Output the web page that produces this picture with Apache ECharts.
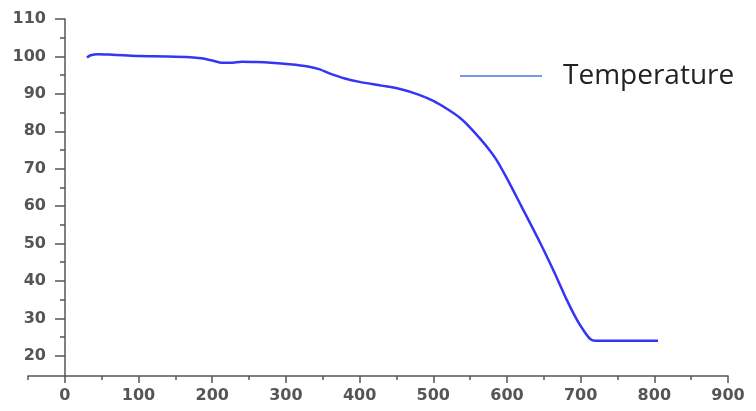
<!DOCTYPE html>
<html>
<head>
<meta charset="utf-8">
<script src="https://cdn.jsdelivr.net/npm/echarts@6/dist/echarts.min.js"></script>
<style>html,body{margin:0;padding:0;background:#fff}#c{width:756px;height:411px}</style>
</head>
<body>
<div id="c"></div>
<script>
var seriesName = 'Temperature';
var xValues = [30,35,45,60,80,100,140,170,185,200,210,225,240,260,280,305,330,345,360,380,400,430,455,480,500,520,536,550,565,577,586,600,620,645,665,681,695,705,713,720,805];
var yValues = [99.7,100.3,100.6,100.5,100.3,100.1,100,99.8,99.5,98.9,98.4,98.3,98.6,98.5,98.3,97.9,97.3,96.6,95.4,94.1,93.2,92.2,91.3,89.8,88.1,85.8,83.6,81,77.7,74.8,72.3,67.4,59.8,50.2,42,35,29.6,26.5,24.5,24,24];
var xMajorTicks = [0,100,200,300,400,500,600,700,800,900];
var xMinorTicks = [-50,50,150,250,350,450,550,650,750,850];
var yMajorTicks = [20,30,40,50,60,70,80,90,100,110];
var yMinorTicks = [25,35,45,55,65,75,85,95,105];

var pts = xValues.map(function(x,i){return [x,yValues[i]];});
var axisColor = '#555';
var labelStyle = {fontFamily:'DejaVu Sans', fontWeight:'bold', fontSize:16, color:'#555'};
var chart = echarts.init(document.getElementById('c'), null, {renderer:'canvas'});
chart.setOption({
  animation:false,
  grid:{left:28, right:28, top:19, bottom:35},
  legend:{
    data:[{name:seriesName, icon:'rect', itemStyle:{color:'#4a78d8'}}],
    left:455, top:57, itemWidth:82, itemHeight:1.5,
    textStyle:{fontFamily:'Open Sans', fontSize:28, color:'#222', padding:[0,0,0,16]}
  },
  xAxis:[{
    type:'value', min:-50, max:900,
    axisLine:{show:true, onZero:false, lineStyle:{color:axisColor, width:1.5}},
    axisTick:{show:true, customValues:xMajorTicks, length:7, lineStyle:{color:axisColor, width:1.5}},
    axisLabel:{customValues:xMajorTicks, margin:12, ...labelStyle},
    splitLine:{show:false}
  },{
    type:'value', min:-50, max:900, position:'bottom',
    axisLine:{show:false, onZero:false},
    axisTick:{show:true, customValues:xMinorTicks, length:4, lineStyle:{color:axisColor, width:1.5}},
    axisLabel:{show:false},
    splitLine:{show:false}
  }],
  yAxis:[{
    type:'value', min:14.6, max:110, offset:-37,
    axisLine:{show:true, onZero:false, lineStyle:{color:axisColor, width:1.5}},
    axisTick:{show:true, customValues:yMajorTicks, length:10, lineStyle:{color:axisColor, width:1.5}},
    axisLabel:{customValues:yMajorTicks, margin:19, ...labelStyle},
    splitLine:{show:false}
  },{
    type:'value', min:14.6, max:110, position:'left', offset:-37,
    axisLine:{show:false, onZero:false},
    axisTick:{show:true, customValues:yMinorTicks, length:5, lineStyle:{color:axisColor, width:1.5}},
    axisLabel:{show:false},
    splitLine:{show:false}
  }],
  series:[{
    name:seriesName, type:'line', data:pts, showSymbol:false, smooth:0.25,
    lineStyle:{color:'#3535f5', width:2.5}, itemStyle:{color:'#3535f5'}
  }]
});
</script>
</body>
</html>
